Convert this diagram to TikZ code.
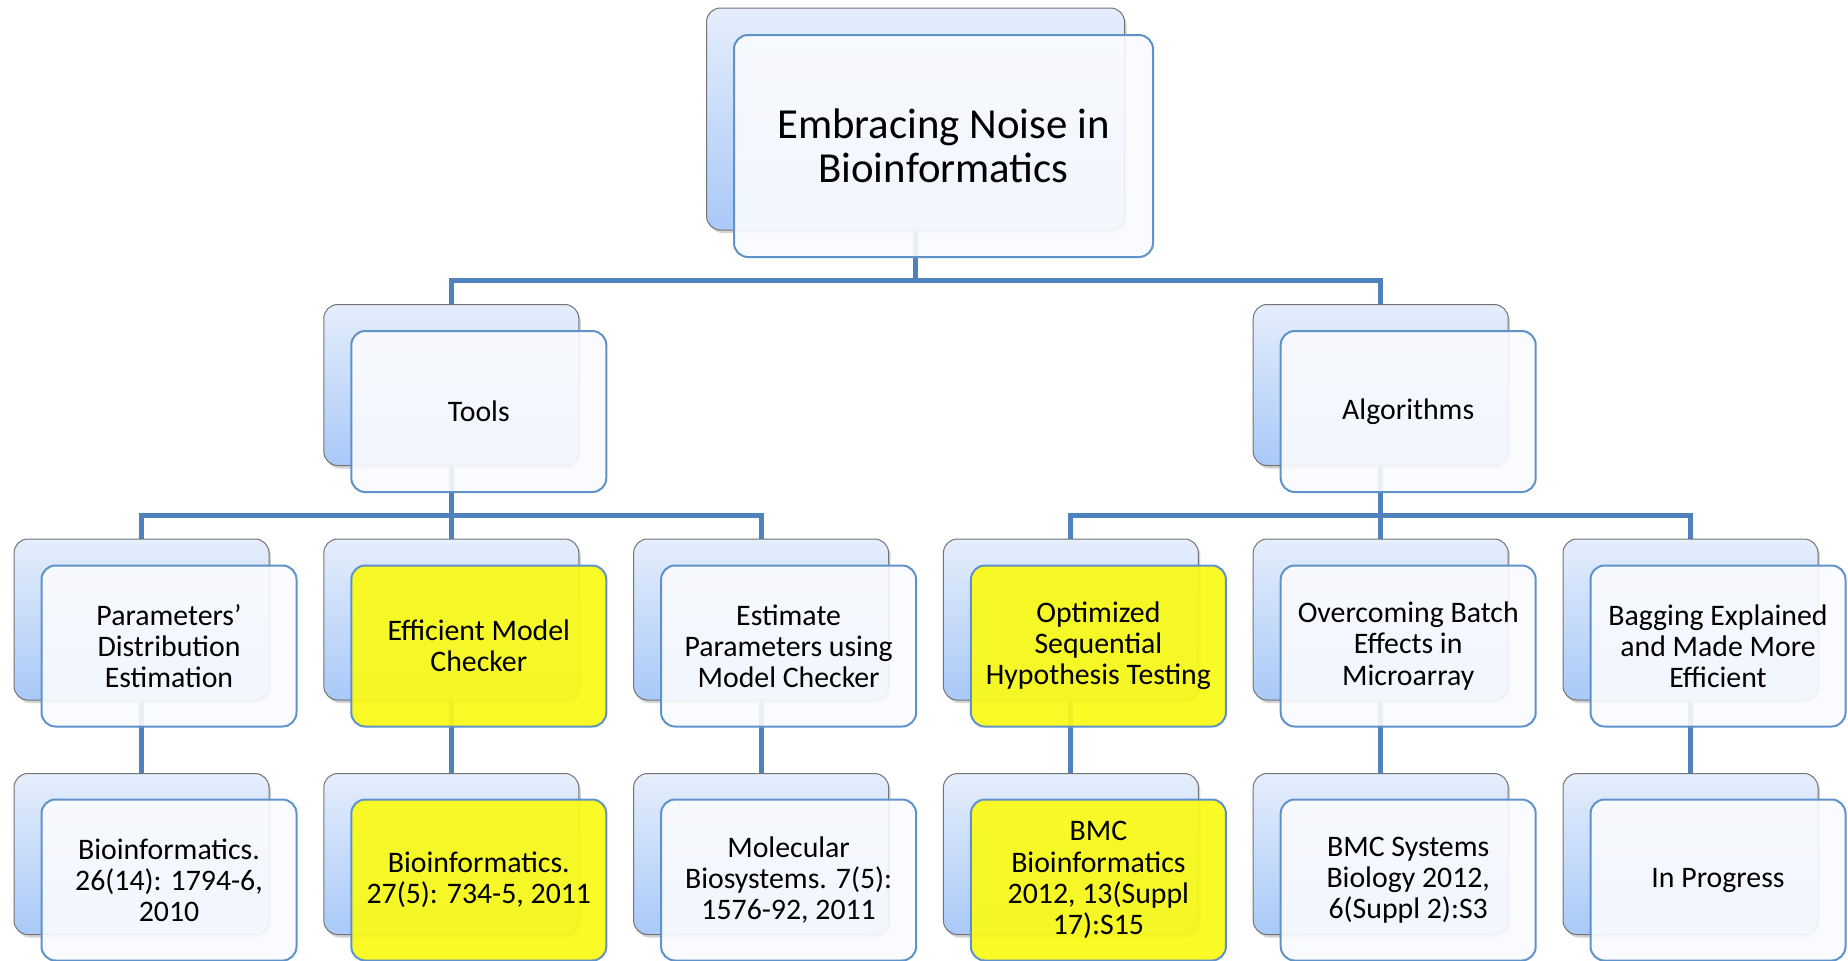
\documentclass[tikz,border=0pt]{standalone}
\usepackage{fontspec}
\setmainfont{Carlito}
\usetikzlibrary{shadows}
\definecolor{connblue}{RGB}{79,129,189}
\definecolor{frontborder}{RGB}{96,146,202}
\definecolor{backtop}{RGB}{229,238,252}
\definecolor{backbot}{RGB}{169,201,248}
\definecolor{frontfill}{RGB}{250,251,254}
\definecolor{hl}{RGB}{250,250,22}
\pgfdeclarelayer{bg}
\pgfsetlayers{bg,main}
\begin{document}
\begin{tikzpicture}[x=0.5pt,y=-0.5pt,
  backbox/.style={draw=black!55, line width=0.5pt, rounded corners=7pt,
    top color=backtop, bottom color=backbot,
    minimum width=127.5pt, minimum height=80.5pt, inner sep=0pt,
    drop shadow={shadow xshift=1pt, shadow yshift=-1.5pt, opacity=0.35}},
  frontbox/.style={draw=frontborder, line width=1pt, rounded corners=7pt,
    fill=frontfill, fill opacity=0.9, text opacity=1, align=center,
    font=\fontsize{14.9}{15.6}\selectfont,
    minimum width=127.5pt, minimum height=80.5pt, inner sep=0pt},
  hlbox/.style={frontbox, fill=hl, fill opacity=0.93},
  connector/.style={draw=connblue, line width=2.5pt}]
\useasboundingbox (0,0) rectangle (1848,960);
\coordinate (bar1) at (0,280);
\coordinate (bar2) at (0,515);
% root
\node[backbox, minimum width=209pt, minimum height=111pt] (rootb) at (915.5,119) {};
\node[frontbox, minimum width=209.5pt, minimum height=111pt,
  font=\fontsize{21.4}{21.8}\selectfont] (root) at (943.5,146) {Embracing Noise in\\Bioinformatics};
% level 2
\node[backbox] (toolsb) at (451.3,385) {};
\node[frontbox] (tools) at (478.8,411.5) {Tools};
\node[backbox] (algb) at (1380.7,385) {};
\node[frontbox] (alg) at (1408.2,411.5) {Algorithms};
% level 3
\node[backbox] (c1b) at (141.5,619.5) {};
\node[frontbox] (c1) at (169,646) {Parameters’\\Distribution\\Estimation};
\node[backbox] (c2b) at (451.3,619.5) {};
\node[hlbox] (c2) at (478.8,646) {Efficient Model\\Checker};
\node[backbox] (c3b) at (761.1,619.5) {};
\node[frontbox] (c3) at (788.6,646) {Estimate\\Parameters using\\Model Checker};
\node[backbox] (c4b) at (1070.9,619.5) {};
\node[hlbox] (c4) at (1098.4,646) {Optimized\\Sequential\\Hypothesis Testing};
\node[backbox] (c5b) at (1380.7,619.5) {};
\node[frontbox] (c5) at (1408.2,646) {Overcoming Batch\\Effects in\\Microarray};
\node[backbox] (c6b) at (1690.5,619.5) {};
\node[frontbox] (c6) at (1718,646) {Bagging Explained\\and Made More\\Efficient};
% level 4
\node[backbox] (d1b) at (141.5,854) {};
\node[frontbox] (d1) at (169,880) {Bioinformatics.\\26(14): 1794-6,\\2010};
\node[backbox] (d2b) at (451.3,854) {};
\node[hlbox] (d2) at (478.8,880) {Bioinformatics.\\27(5): 734-5, 2011};
\node[backbox] (d3b) at (761.1,854) {};
\node[frontbox] (d3) at (788.6,880) {Molecular\\Biosystems. 7(5):\\1576-92, 2011};
\node[backbox] (d4b) at (1070.9,854) {};
\node[hlbox] (d4) at (1098.4,880) {BMC\\Bioinformatics\\2012, 13(Suppl\\17):S15};
\node[backbox] (d5b) at (1380.7,854) {};
\node[frontbox] (d5) at (1408.2,880) {BMC Systems\\Biology 2012,\\6(Suppl 2):S3};
\node[backbox] (d6b) at (1690.5,854) {};
\node[frontbox] (d6) at (1718,880) {In Progress};
% connectors
\begin{pgfonlayer}{bg}
\draw[connector] (rootb.south) -- (rootb.south |- bar1) -| (toolsb.north);
\draw[connector] (rootb.south) -- (rootb.south |- bar1) -| (algb.north);
\draw[connector] (toolsb.south) -- (toolsb.south |- bar2) -| (c1b.north);
\draw[connector] (toolsb.south) -- (c2b.north);
\draw[connector] (toolsb.south) -- (toolsb.south |- bar2) -| (c3b.north);
\draw[connector] (algb.south) -- (algb.south |- bar2) -| (c4b.north);
\draw[connector] (algb.south) -- (c5b.north);
\draw[connector] (algb.south) -- (algb.south |- bar2) -| (c6b.north);
\draw[connector] (c1b.south) -- (d1b.north);
\draw[connector] (c2b.south) -- (d2b.north);
\draw[connector] (c3b.south) -- (d3b.north);
\draw[connector] (c4b.south) -- (d4b.north);
\draw[connector] (c5b.south) -- (d5b.north);
\draw[connector] (c6b.south) -- (d6b.north);
\end{pgfonlayer}
\end{tikzpicture}
\end{document}
